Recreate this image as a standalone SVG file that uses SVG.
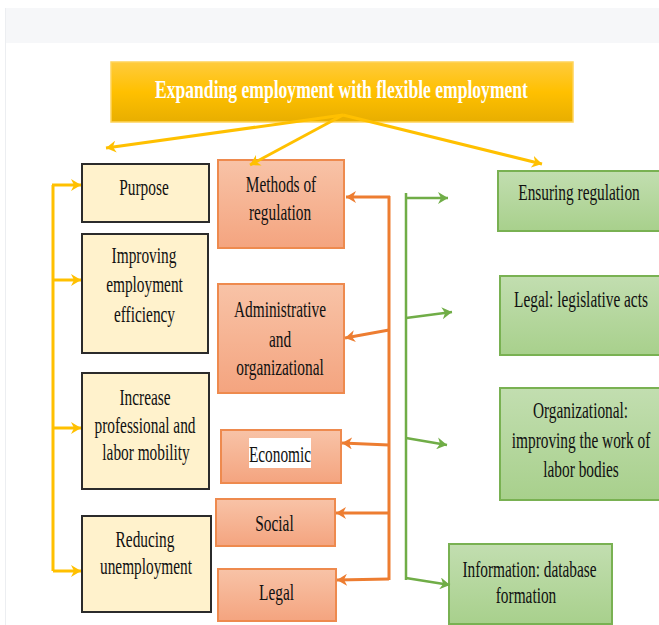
<svg xmlns="http://www.w3.org/2000/svg" width="659" height="625" viewBox="0 0 659 625">
<defs>
<linearGradient id="gTitle" x1="0" y1="0" x2="0" y2="1"><stop offset="0" stop-color="#ffcb3d"/><stop offset="0.5" stop-color="#ffc000"/><stop offset="1" stop-color="#e8ae00"/></linearGradient>
<linearGradient id="gOr" x1="0" y1="0" x2="0" y2="1"><stop offset="0" stop-color="#f8c3a7"/><stop offset="1" stop-color="#f4a47f"/></linearGradient>
<linearGradient id="gGr" x1="0" y1="0" x2="0" y2="1"><stop offset="0" stop-color="#c2deb0"/><stop offset="1" stop-color="#a8d08c"/></linearGradient>
<marker id="mY" markerUnits="userSpaceOnUse" markerWidth="12" markerHeight="12" refX="10" refY="6" orient="auto"><path d="M0,0 L10,6 L0,12 L3,6 Z" fill="#ffc000"/></marker>
<marker id="mO" markerUnits="userSpaceOnUse" markerWidth="12" markerHeight="12" refX="10" refY="6" orient="auto"><path d="M0,0 L10,6 L0,12 L3,6 Z" fill="#ed7d31"/></marker>
<marker id="mG" markerUnits="userSpaceOnUse" markerWidth="12" markerHeight="12" refX="10" refY="6" orient="auto"><path d="M0,0 L10,6 L0,12 L3,6 Z" fill="#70ad47"/></marker>
</defs>
<style>
.t{font-family:"Liberation Serif","Times New Roman",serif;font-size:24px;fill:#111;text-anchor:middle;}
.tt{font-family:"Liberation Serif","Times New Roman",serif;font-size:25px;fill:#fff;font-weight:bold;text-anchor:middle;}
.cream{fill:#fff2cc;stroke:#2b2b2b;stroke-width:2;}
.or{fill:url(#gOr);stroke:#ee8a4e;stroke-width:2;}
.gr{fill:url(#gGr);stroke:#79b152;stroke-width:2;}
.cy{fill:none;stroke:#ffc000;stroke-width:3;}
.co{fill:none;stroke:#ed7d31;stroke-width:3;}
.cg{fill:none;stroke:#70ad47;stroke-width:2.5;}
</style>
<rect x="0" y="0" width="659" height="625" fill="#ffffff"/>
<rect x="5" y="8" width="654" height="35" fill="#f6f7f9"/>
<line x1="5.5" y1="8" x2="5.5" y2="625" stroke="#eceef1" stroke-width="1"/>

<g id="title">
<rect x="111" y="62" width="462" height="60" fill="url(#gTitle)" stroke="#ffd45a" stroke-width="1.5"/>
<text class="tt" transform="translate(341.5,98) scale(0.72,1)" textLength="518" lengthAdjust="spacingAndGlyphs">Expanding employment with flexible employment</text>
</g>

<g id="purpose"><rect class="cream" x="82" y="164" width="127" height="58"/>
<text class="t" transform="translate(144,195) scale(0.64,1)">Purpose</text></g>

<g id="improving"><rect class="cream" x="82" y="234" width="126" height="119"/>
<text class="t" transform="translate(144,263) scale(0.64,1)">Improving</text>
<text class="t" transform="translate(144.5,292) scale(0.64,1)">employment</text>
<text class="t" transform="translate(144.5,322) scale(0.64,1)">efficiency</text></g>

<g id="increase"><rect class="cream" x="82" y="373" width="127" height="116"/>
<text class="t" transform="translate(145,405) scale(0.64,1)">Increase</text>
<text class="t" transform="translate(145,433) scale(0.64,1)">professional and</text>
<text class="t" transform="translate(146,460) scale(0.64,1)">labor mobility</text></g>

<g id="reducing"><rect class="cream" x="82" y="516" width="129" height="96"/>
<text class="t" transform="translate(145,547) scale(0.64,1)">Reducing</text>
<text class="t" transform="translate(146,574) scale(0.64,1)">unemployment</text></g>

<g id="methods"><rect class="or" x="218" y="160" width="126" height="88"/>
<text class="t" transform="translate(281,192) scale(0.64,1)">Methods of</text>
<text class="t" transform="translate(280,220) scale(0.64,1)">regulation</text></g>

<g id="administrative"><rect class="or" x="218" y="284" width="126" height="109"/>
<text class="t" transform="translate(280,317) scale(0.64,1)">Administrative</text>
<text class="t" transform="translate(280,347) scale(0.64,1)">and</text>
<text class="t" transform="translate(280,375) scale(0.64,1)">organizational</text></g>

<g id="economic"><rect class="or" x="221" y="430" width="120" height="53"/>
<rect x="249" y="438" width="62" height="30" fill="#ffffff"/>
<text class="t" transform="translate(280,462) scale(0.64,1)">Economic</text></g>

<g id="social"><rect class="or" x="216" y="499" width="119" height="47"/>
<text class="t" transform="translate(274.5,531) scale(0.64,1)">Social</text></g>

<g id="legal"><rect class="or" x="218" y="569" width="118" height="52"/>
<text class="t" transform="translate(276.5,600) scale(0.64,1)">Legal</text></g>

<g id="ensuring"><rect class="gr" x="498" y="171" width="164" height="60"/>
<text class="t" transform="translate(579,200) scale(0.64,1)">Ensuring regulation</text></g>

<g id="legislative"><rect class="gr" x="500" y="276" width="162" height="79"/>
<text class="t" transform="translate(581,307) scale(0.64,1)">Legal: legislative acts</text></g>

<g id="organizational"><rect class="gr" x="500" y="388" width="162" height="112"/>
<text class="t" transform="translate(580.5,418) scale(0.64,1)">Organizational:</text>
<text class="t" transform="translate(581,448) scale(0.64,1)">improving the work of</text>
<text class="t" transform="translate(581,477) scale(0.64,1)">labor bodies</text></g>

<g id="information"><rect class="gr" x="449" y="544" width="163" height="80"/>
<text class="t" transform="translate(529.5,577) scale(0.64,1)">Information: database</text>
<text class="t" transform="translate(526,603) scale(0.64,1)">formation</text></g>

<g id="connectors">
<line class="cy" x1="343" y1="115" x2="106" y2="148" marker-end="url(#mY)"/>
<line class="cy" x1="343" y1="115" x2="250" y2="165" marker-end="url(#mY)"/>
<line class="cy" x1="343" y1="115" x2="542" y2="164" marker-end="url(#mY)"/>
<line class="cy" x1="53" y1="185" x2="53" y2="571"/>
<line class="cy" x1="52" y1="185" x2="81" y2="185" marker-end="url(#mY)"/>
<line class="cy" x1="53" y1="280" x2="81" y2="280" marker-end="url(#mY)"/>
<line class="cy" x1="53" y1="428" x2="81" y2="428" marker-end="url(#mY)"/>
<line class="cy" x1="53" y1="571" x2="81" y2="571" marker-end="url(#mY)"/>

<line class="co" x1="389" y1="196" x2="389" y2="580"/>
<line class="co" x1="390" y1="197" x2="346" y2="197" marker-end="url(#mO)"/>
<line class="co" x1="389" y1="330" x2="345" y2="338" marker-end="url(#mO)"/>
<line class="co" x1="389" y1="445" x2="342" y2="443" marker-end="url(#mO)"/>
<line class="co" x1="389" y1="513" x2="336" y2="513" marker-end="url(#mO)"/>
<line class="co" x1="389" y1="579" x2="337" y2="580" marker-end="url(#mO)"/>

<line class="cg" x1="406" y1="193" x2="406" y2="580"/>
<line class="cg" x1="406" y1="198" x2="448" y2="198" marker-end="url(#mG)"/>
<line class="cg" x1="406" y1="318" x2="452" y2="312" marker-end="url(#mG)"/>
<line class="cg" x1="406" y1="438" x2="447" y2="445" marker-end="url(#mG)"/>
<line class="cg" x1="406" y1="578" x2="450" y2="585" marker-end="url(#mG)"/>
</g>
</svg>
